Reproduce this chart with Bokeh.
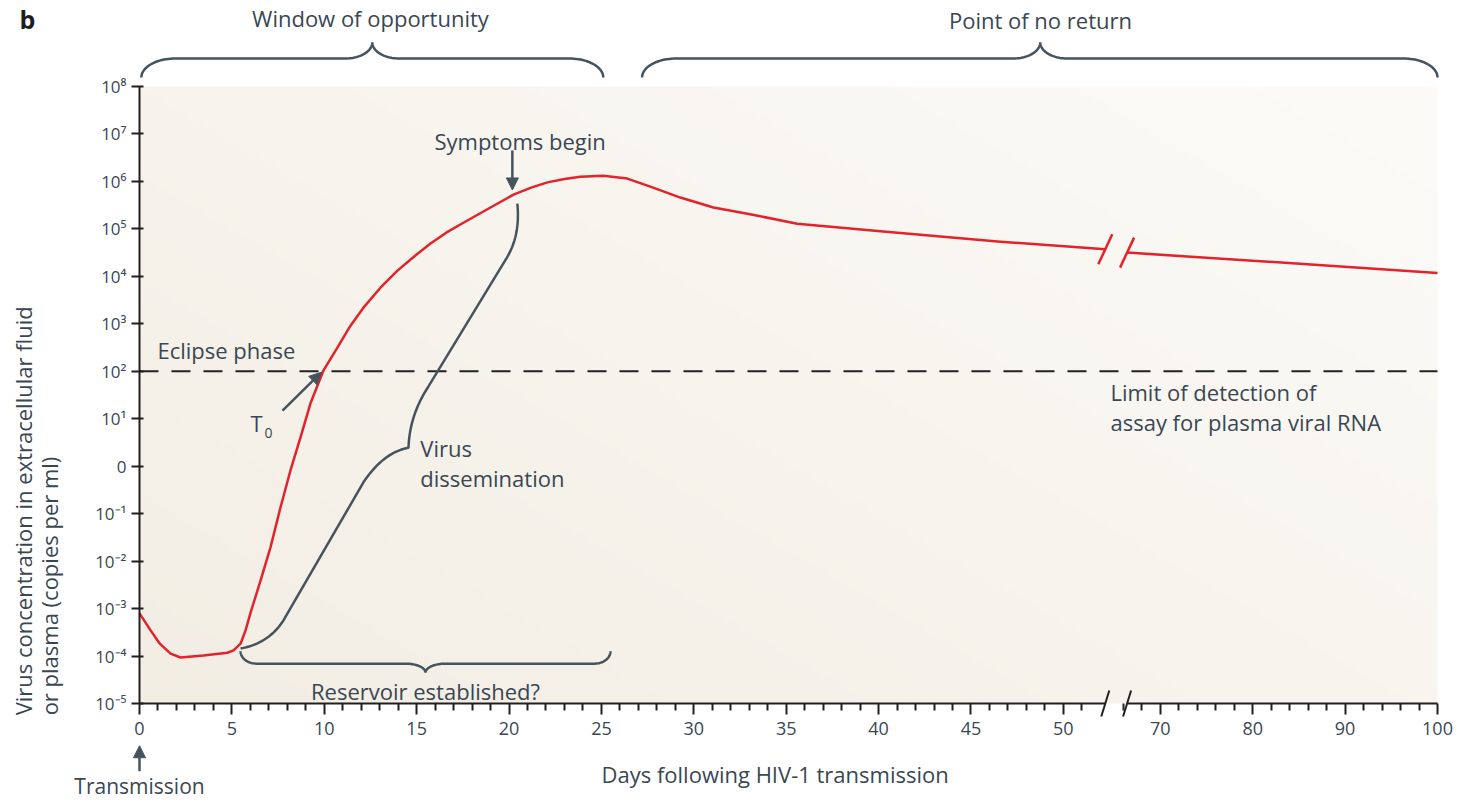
import numpy as np
from bokeh.plotting import figure
from bokeh.models import Range1d, LinearAxis, FixedTicker, Label, Arrow, NormalHead
from bokeh.embed import file_html
from bokeh.resources import INLINE

# ---------------- data (days, log10 copies/ml) ----------------
days_early = [0, 0.6, 1.1, 1.68, 2.22, 3.46, 4.76, 5.09, 5.47, 5.74, 6.0, 6.55, 7.09, 7.63,
              8.17, 8.71, 9.25, 9.96, 10.71, 11.42, 12.12, 13.04, 13.96, 14.9, 15.75, 16.6,
              17.53, 18.9, 20.24, 21.2, 22.08, 23.0, 23.86, 25.1, 26.4, 27.8, 29.27, 31.06,
              32.9, 35.6, 40.1, 46.6, 52.27]
log_early = [-3.10, -3.46, -3.74, -3.95, -4.03, -3.99, -3.93, -3.88, -3.74, -3.46, -3.10, -2.41,
             -1.71, -0.87, -0.09, 0.60, 1.32, 2.02, 2.50, 2.96, 3.34, 3.76, 4.12, 4.43, 4.69,
             4.92, 5.13, 5.43, 5.72, 5.87, 5.98, 6.05, 6.10, 6.12, 6.06, 5.87, 5.66, 5.45,
             5.32, 5.11, 4.95, 4.73, 4.57]
days_late = [66.4, 80, 100]
log_late = [4.50, 4.33, 4.07]

detection_limit = 2          # log10 copies per ml
y_ticks = list(range(-5, 9))
y_tick_labels = ["10⁻⁵", "10⁻⁴", "10⁻³", "10⁻²", "10⁻¹", "0", "10¹", "10²",
                 "10³", "10⁴", "10⁵", "10⁶", "10⁷", "10⁸"]
x_major_early = [0, 5, 10, 15, 20, 25, 30, 35, 40, 45, 50]
x_major_late = [70, 80, 90, 100]
x_minor_early = [d for d in range(1, 52) if d % 5 != 0]
x_minor_late = [d for d in range(66, 100, 2) if d % 10 != 0]

# brace anchors (days / log10)
window_brace = dict(x0=0.1, x1=25.1, xt=12.6)
noreturn_brace = dict(x0=27.2, x1=100, xt=48.75)
reservoir_brace = dict(x0=5.47, x1=25.49, xt=15.48)
# virus dissemination brace control points (days, log10)
dissem_pts = [(5.47, -3.84), (6.98, -3.74), (7.79, -3.25), (12.12, -0.34), (13.20, 0.29),
              (14.56, 0.39), (14.61, 1.07), (15.64, 1.68), (19.86, 4.38), (20.62, 4.86),
              (20.45, 5.53)]

# ---------------- broken x scale ----------------
BREAK_L = 52.27     # last displayed day before break
BREAK_R_DAY = 66.4  # first displayed day after break


def pos(d):
    d = np.asarray(d, dtype=float)
    return np.where(d <= 53, d, 55.25 + (d - 70) / 2.0)


BREAK_R = float(pos(BREAK_R_DAY))
X_MAX = float(pos(100))

FIG_W, FIG_H = 1458, 803
AX_L, AX_R, AX_T, AX_B = 139, 1437, 86, 703      # where the data area sits
Y_LO, Y_HI = -5, 8
PXX = (AX_R - AX_L) / X_MAX
PXY = (AX_B - AX_T) / (Y_HI - Y_LO)
XR = (-AX_L / PXX, (FIG_W - AX_L) / PXX)
YR = (Y_LO - (FIG_H - AX_B) / PXY, Y_HI + AX_T / PXY)

FONT = "Open Sans"
TXT = "#3a4753"
RED = "#e3222b"
BRACE = "#46535d"
AX = "#231f20"

p = figure(width=FIG_W, height=FIG_H, x_range=Range1d(*XR), y_range=Range1d(*YR),
           output_backend="svg", toolbar_location=None, title=None,
           x_axis_location=None, y_axis_location=None,
           min_border_left=0, min_border_right=0, min_border_top=0, min_border_bottom=0,
           background_fill_color="white", border_fill_color="white", outline_line_color=None)
p.grid.visible = False

# background gradient for the data area
nx, ny = 240, 120
u = np.linspace(0, 1, nx)[None, :]
v = np.linspace(0, 1, ny)[:, None]
t = np.clip(0.55 * u + 0.45 * v, 0, 1)
c0 = np.array([243, 238, 228])
c1 = np.array([252, 251, 248])
img = np.empty((ny, nx), dtype=np.uint32)
view = img.view(dtype=np.uint8).reshape((ny, nx, 4))
for k in range(3):
    view[:, :, k] = (c0[k] * (1 - t) + c1[k] * t).astype(np.uint8)
view[:, :, 3] = 255
p.image_rgba(image=[img], x=0, y=Y_LO, dw=X_MAX, dh=Y_HI - Y_LO)

# ---------------- axes ----------------
yax = LinearAxis(bounds=(Y_LO, Y_HI), ticker=FixedTicker(ticks=y_ticks),
                 major_label_overrides={k: s for k, s in zip(y_ticks, y_tick_labels)},
                 fixed_location=0)
p.add_layout(yax, "left")
yax.minor_tick_line_color = None
yax.major_tick_out = 8
yax.major_tick_in = 4
yax.major_tick_line_width = 2
yax.major_tick_line_color = AX
yax.axis_line_width = 2
yax.axis_line_color = AX
yax.major_label_text_font = FONT
yax.major_label_text_font_size = "17px"
yax.major_label_text_color = TXT
yax.major_label_standoff = 5

ax1 = LinearAxis(bounds=(0, BREAK_L),
                 ticker=FixedTicker(ticks=[float(pos(d)) for d in x_major_early],
                                    minor_ticks=[float(pos(d)) for d in x_minor_early]),
                 fixed_location=Y_LO)
ax2 = LinearAxis(bounds=(BREAK_R, X_MAX),
                 ticker=FixedTicker(ticks=[float(pos(d)) for d in x_major_late],
                                    minor_ticks=[float(pos(d)) for d in x_minor_late]),
                 major_label_overrides={float(pos(d)): str(d) for d in x_major_late},
                 fixed_location=Y_LO)
for ax in (ax1, ax2):
    p.add_layout(ax, "below")
    ax.axis_line_width = 2
    ax.axis_line_color = AX
    ax.major_tick_out = 11
    ax.major_tick_in = 0
    ax.minor_tick_out = 7
    ax.minor_tick_in = 0
    ax.major_tick_line_width = 2
    ax.minor_tick_line_width = 2
    ax.major_tick_line_color = AX
    ax.minor_tick_line_color = AX
    ax.major_label_text_font = FONT
    ax.major_label_text_font_size = "18px"
    ax.major_label_text_color = TXT
    ax.major_label_standoff = 7

# ---------------- data lines ----------------
p.line([float(pos(0)), float(pos(100))], [detection_limit, detection_limit],
       line_color="#222222", line_width=2, line_dash="19 13")
p.line(pos(days_early), log_early, line_color=RED, line_width=2.5, line_join="round")
p.line(pos(days_late), log_late, line_color=RED, line_width=2.5)

# red break slashes
sx, sy = 7 / PXX, 15 / PXY
bx = [BREAK_L, BREAK_R]
by = [log_early[-1], log_late[0]]
p.segment(x0=[x - sx for x in bx], y0=[y - sy for y in by],
          x1=[x + sx for x in bx], y1=[y + sy for y in by], line_color=RED, line_width=2.5)

# axis break slashes
ax_dx, ax_dy = 4 / PXX, 13 / PXY
p.segment(x0=[x - ax_dx for x in bx], y0=[Y_LO - ax_dy] * 2,
          x1=[x + ax_dx for x in bx], y1=[Y_LO + ax_dy] * 2, line_color=AX, line_width=2)


# ---------------- braces ----------------
def half_brace(xe, xt, yb, yh, yt, r_end, r_tip, n=24):
    s = 1.0 if xt > xe else -1.0
    rx, rt = r_end / PXX, r_tip / PXX
    a = np.linspace(0, np.pi / 2, n)
    xs = list(xe + s * rx * (1 - np.cos(a)))
    ys = list(yb + (yh - yb) * np.sin(a))
    xs += list(xt - s * rt + s * rt * np.sin(a))
    ys += list(yh + (yt - yh) * (1 - np.cos(a)))
    return xs, ys


def brace(x0, x1, xt, yb, yh, yt, r_end=34, r_tip=27):
    x0, x1, xt = float(pos(x0)), float(pos(x1)), float(pos(xt))
    ax_, ay_ = half_brace(x0, xt, yb, yh, yt, r_end, r_tip)
    bx_, by_ = half_brace(x1, xt, yb, yh, yt, r_end, r_tip)
    return ax_ + bx_[::-1], ay_ + by_[::-1]


for b in (window_brace, noreturn_brace):
    xs, ys = brace(b["x0"], b["x1"], b["xt"], 8.19, 8.59, 8.93)
    p.line(xs, ys, line_color=BRACE, line_width=2.5)

xs, ys = brace(reservoir_brace["x0"], reservoir_brace["x1"], reservoir_brace["xt"],
               -3.90, -4.16, -4.35, r_end=16, r_tip=20)
p.line(xs, ys, line_color=BRACE, line_width=2.5)


def qbez(p0, p1, p2, n=20):
    tt = np.linspace(0, 1, n)[:, None]
    P0, P1, P2 = (np.array(q) for q in (p0, p1, p2))
    return (1 - tt) ** 2 * P0 + 2 * (1 - tt) * tt * P1 + tt ** 2 * P2


d = dissem_pts
path = np.vstack([qbez(d[0], d[1], d[2]), np.array([d[2], d[3]]),
                  qbez(d[3], d[4], d[5]), qbez(d[5], d[6], d[7]),
                  np.array([d[7], d[8]]), qbez(d[8], d[9], d[10])])
p.line(pos(path[:, 0]), path[:, 1], line_color=BRACE, line_width=2.5)


# ---------------- texts ----------------
def lab(x, y, text, size="22px", align="left", baseline="middle", color=TXT, angle=0,
        style="normal"):
    p.add_layout(Label(x=x, y=y, text=text, text_font=FONT, text_font_size=size,
                       text_color=color, text_align=align, text_baseline=baseline,
                       angle=angle, text_font_style=style))


lab(-6.5, 9.43, "b", size="25px", color="#1d1d1d", style="bold")
lab(12.5, 9.45, "Window of opportunity", align="center")
lab(48.76, 9.41, "Point of no return", align="center")
lab(20.6, 6.86, "Symptoms begin", align="center")
lab(0.97, 2.44, "Eclipse phase")
lab(6.33, 0.92, "T", align="center")
lab(6.98, 0.70, "0", size="14px", align="center")
lab(15.2, 0.39, "Virus")
lab(15.2, -0.24, "dissemination")
lab(52.55, 1.57, "Limit of detection of")
lab(52.55, 0.94, "assay for plasma viral RNA")
lab(15.48, -4.73, "Reservoir established?", align="center")
lab(34.4, -6.48, "Days following HIV-1 transmission", align="center")
lab(0, -6.73, "Transmission", size="21px", align="center")
lab(-6.33, -5.25, "Virus concentration in extracellular fluid", angle=np.pi / 2)
lab(-4.92, -5.25, "or plasma (copies per ml)", angle=np.pi / 2)


def arrow(x0, y0, x1, y1):
    p.add_layout(Arrow(end=NormalHead(size=12, fill_color=BRACE, line_color=BRACE),
                       x_start=x0, y_start=y0, x_end=x1, y_end=y1,
                       line_color=BRACE, line_width=2.5))


arrow(20.18, 6.65, 20.18, 5.82)
arrow(7.74, 1.17, 9.85, 1.98)
arrow(0, -6.43, 0, -5.89)

open("out.html", "w").write(file_html(p, INLINE))
